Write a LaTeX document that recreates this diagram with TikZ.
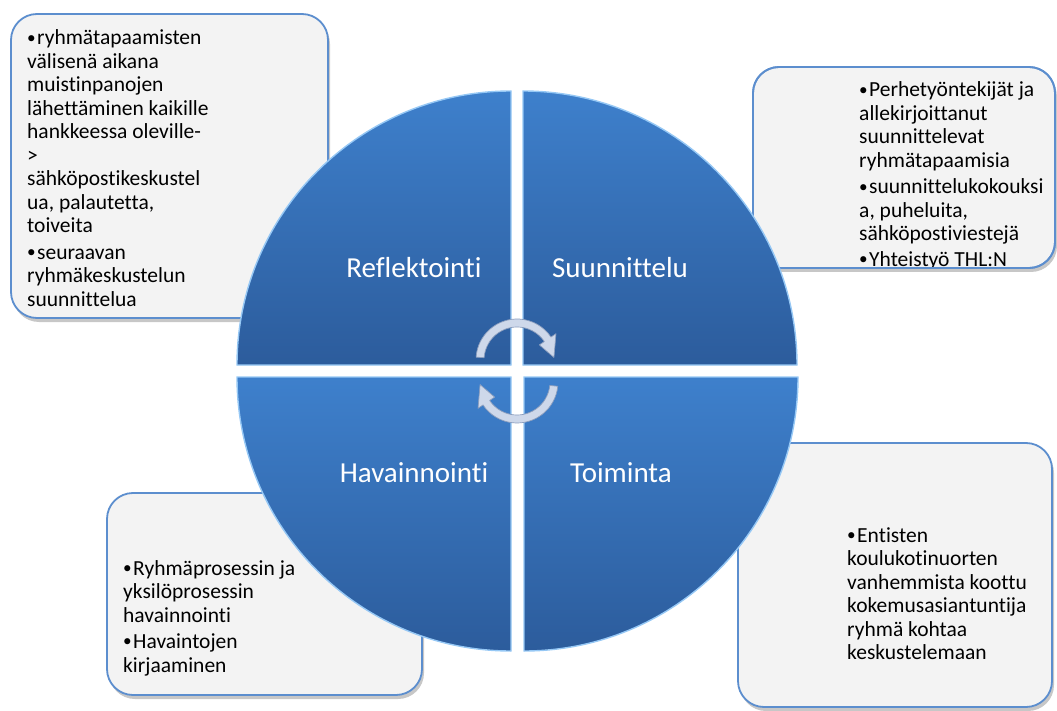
\documentclass[tikz,border=0pt]{standalone}
\usepackage{fontspec}
\setmainfont{Carlito}[Ligatures=NoCommon]
\definecolor{qlight}{RGB}{62,128,204}
\definecolor{qdark}{RGB}{44,92,156}
\definecolor{qedge}{RGB}{150,200,245}
\definecolor{boxfill}{RGB}{243,243,243}
\definecolor{boxline}{RGB}{92,142,206}
\definecolor{arrfill}{RGB}{206,216,234}
\definecolor{arrline}{RGB}{140,158,190}
\newcommand{\bitem}[1]{\par\noindent\hangindent=10pt\hangafter=1\makebox[10pt][l]{\raisebox{0.07em}{\scalebox{0.8}{\textbullet}}}#1\par}
\newcommand{\btxt}[1]{\parbox[t]{270pt}{\raggedright #1}}
\tikzset{
  boxshape/.style={fill=boxfill, draw=boxline, line width=1.8pt, rounded corners=26pt},
  boxshadow/.style={fill=black, opacity=0.22, rounded corners=26pt},
  quad/.style={top color=qlight, bottom color=qdark, draw=qedge, line width=1.4pt},
  qlabel/.style={text=white, inner sep=0pt, font=\fontsize{29}{32}\selectfont},
  btext/.style={anchor=base west, inner sep=0pt, font=\fontsize{21.5}{23.5}\selectfont, text=black},
  cyc/.style={fill=arrfill, draw=arrline, line width=0.7pt, line join=round},
}
\begin{document}
\begin{tikzpicture}[x=1pt,y=-1pt]
\useasboundingbox (0,0) rectangle (1057,711);
% shadows
\fill[boxshadow] (13,18) rectangle (330,322);
\fill[boxshadow] (755,71) rectangle (1057,272);
\fill[boxshadow] (109,497) rectangle (424,699);
\fill[boxshadow] (740,447) rectangle (1054,711);
% boxes
\path[boxshape] (11,14) rectangle (328,318);
\path[boxshape] (753,67) rectangle (1055,268);
\path[boxshape] (107,493) rectangle (422,695);
\path[boxshape] (738,443) rectangle (1052,707);
% texts
\node[btext] (tltext) at (27,45) {\btxt{\bitem{ryhmätapaamisten\\välisenä aikana\\muistinpanojen\\lähettäminen kaikille\\hankkeessa oleville-\\>\\sähköpostikeskustel\\ua, palautetta,\\toiveita}\vspace{3pt}\bitem{seuraavan\\ryhmäkeskustelun\\suunnittelua}}};
\begin{scope}
\clip[rounded corners=26pt] (753,67) rectangle (1055,267);
\node[btext] (trtext) at (859,97) {\btxt{\bitem{Perhetyöntekijät ja\\allekirjoittanut\\suunnittelevat\\ryhmätapaamisia}\vspace{3pt}\bitem{suunnittelukokouksi\\a, puheluita,\\sähköpostiviestejä}\vspace{2pt}\bitem{Yhteistyö THL:N}}};
\end{scope}
\draw[draw=boxline, line width=1.8pt, rounded corners=26pt] (753,67) rectangle (1055,268);
\node[btext] (bltext) at (123,575) {\btxt{\bitem{Ryhmäprosessin ja\\yksilöprosessin\\havainnointi}\vspace{3pt}\bitem{Havaintojen\\kirjaaminen}}};
\node[btext] (brtext) at (847,542) {\btxt{\bitem{Entisten\\koulukotinuorten\\vanhemmista koottu\\kokemusasiantuntija\\ryhmä kohtaa\\keskustelemaan}}};
% quadrants
\path[quad] (511,365) -- (237,365) arc[start angle=180, end angle=270, radius=274] -- cycle;
\path[quad] (523,365) -- (523,91) arc[start angle=270, end angle=360, radius=274] -- cycle;
\path[quad] (524,377) -- (798,377) arc[start angle=0, end angle=90, radius=274] -- cycle;
\path[quad] (511,377) -- (511,651) arc[start angle=90, end angle=180, radius=274] -- cycle;
% labels
\node[qlabel] (refl) at (414,268) {Reflektointi};
\node[qlabel] (suun) at (620,268) {Suunnittelu};
\node[qlabel] (hava) at (414,473) {Havainnointi};
\node[qlabel] (toim) at (621,473) {Toiminta};
% cycle arrows
\begin{scope}[shift={(517,360)}]
\path[cyc] (184:41) arc[start angle=184, end angle=326, radius=41] -- (326:47) -- (356:37) -- (326:27) -- (326:33) arc[start angle=326, end angle=184, radius=33] -- cycle;
\end{scope}
\begin{scope}[shift={(517,382)}]
\path[cyc] (6:41) arc[start angle=6, end angle=146, radius=41] -- (146:47) -- (176:37) -- (146:27) -- (146:33) arc[start angle=146, end angle=6, radius=33] -- cycle;
\end{scope}
\end{tikzpicture}
\end{document}
